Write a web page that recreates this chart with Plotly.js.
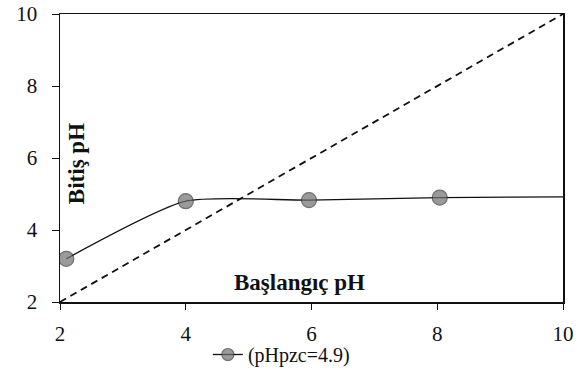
<!DOCTYPE html>
<html><head><meta charset="utf-8">
<script src="https://cdn.plot.ly/plotly-3.0.1.min.js"></script>
<style>html,body{margin:0;padding:0;background:#fff}#c{width:587px;height:374px}</style>
</head><body><div id="c"></div>
<script>
const startPH = [2.1, 4.0, 5.96, 8.04, 10];
const endPH = [3.2, 4.8, 4.83, 4.9, 4.92];
const markerSizes = [15, 15, 15, 15, 0];
const refX = [2, 10];
const refY = [2, 10];
const seriesName = '(pHpzc=4.9)';
const xTitle = 'Başlangıç pH';
const yTitle = 'Bitiş pH';

const traces = [
  {x: refX, y: refY, mode: 'lines', line: {color: '#111', width: 1.8, dash: '7px,5px'}, showlegend: false, hoverinfo: 'skip'},
  {x: startPH, y: endPH, mode: 'lines+markers', name: seriesName,
   line: {color: '#111', width: 1.3, shape: 'spline', smoothing: 0.6},
   marker: {size: markerSizes, color: '#707070', line: {color: '#333', width: 1.2}}}
];
const fam = 'Liberation Serif';
const font = {family: fam, color: '#111'};
const layout = {
  width: 587, height: 374,
  margin: {l: 60, r: 24, t: 14, b: 72, autoexpand: false},
  paper_bgcolor: '#fff', plot_bgcolor: '#fff',
  font: Object.assign({size: 21}, font),
  xaxis: {range: [2, 10], tickvals: [2, 4, 6, 8, 10], ticks: 'outside', ticklen: 6, tickcolor: '#111',
          ticklabelstandoff: 6,
          showgrid: false, zeroline: false, showline: true, linecolor: '#111', linewidth: 1.5, mirror: true,
          tickfont: Object.assign({size: 21}, font)},
  yaxis: {range: [2, 10], tickvals: [2, 4, 6, 8, 10], ticks: 'outside', ticklen: 7, tickcolor: '#111',
          ticklabelstandoff: 10,
          showgrid: false, zeroline: false, showline: true, linecolor: '#111', linewidth: 1.5, mirror: true,
          tickfont: Object.assign({size: 21}, font)},
  showlegend: true,
  legend: {orientation: 'h', x: 0.294, xanchor: 'left', yref: 'container', y: 0.0, yanchor: 'bottom',
           bgcolor: 'rgba(0,0,0,0)', font: Object.assign({size: 20}, font)},
  annotations: [
    {x: 0.032, y: 0.479, xref: 'paper', yref: 'paper', xanchor: 'center', yanchor: 'middle',
     text: '<b>' + yTitle + '</b>', textangle: -90,
     showarrow: false, font: Object.assign({size: 23}, font)},
    {x: 0.477, y: 0.066, xref: 'paper', yref: 'paper', xanchor: 'center', yanchor: 'middle',
     text: '<b>' + xTitle + '</b>',
     showarrow: false, font: Object.assign({size: 23}, font)}
  ]
};
Plotly.newPlot('c', traces, layout, {displayModeBar: false, staticPlot: true});
</script></body></html>
